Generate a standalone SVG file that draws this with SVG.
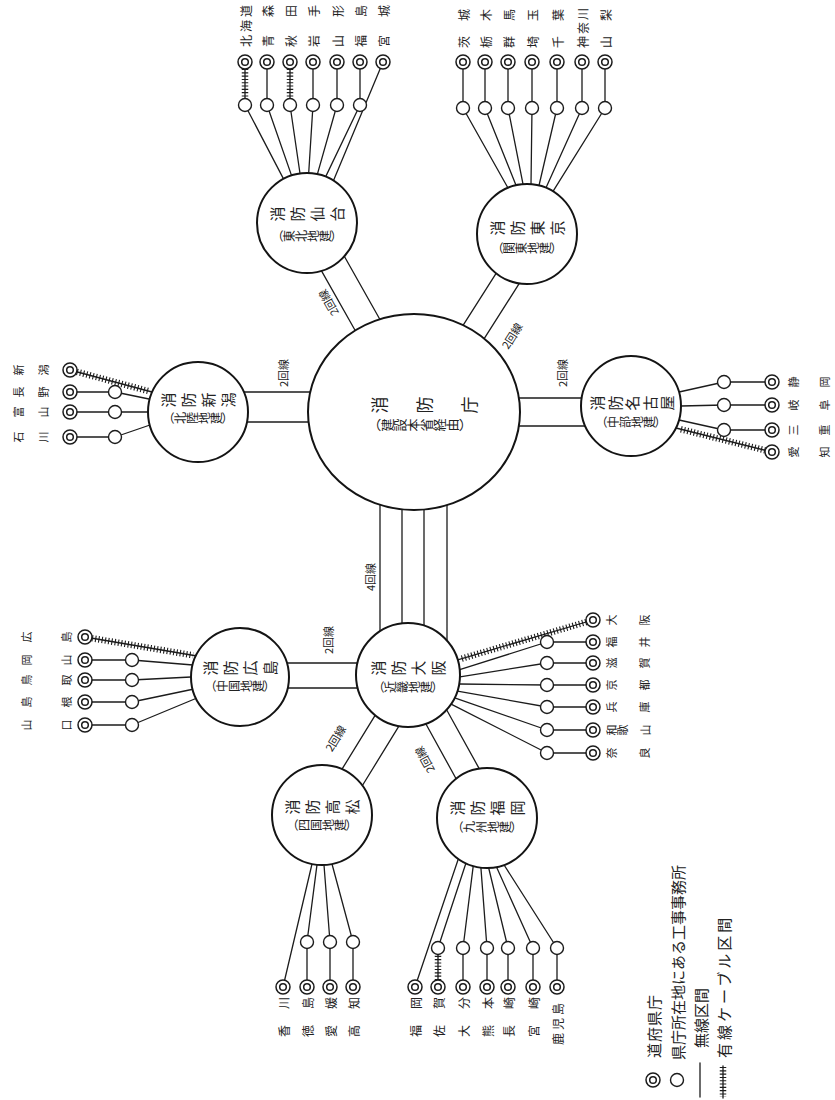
<svg xmlns="http://www.w3.org/2000/svg" width="835" height="1100" viewBox="0 0 835 1100">
<style>
.ln{stroke:#1c1c1c;stroke-width:1.3;fill:none;stroke-linecap:round}
.cb{stroke:#1c1c1c;stroke-width:6.5;stroke-dasharray:1.1 2.2;fill:none}
.hub{fill:#fff;stroke:#141414;stroke-width:2}
.po{fill:#fff;stroke:#1c1c1c;stroke-width:1.5}
.pi{fill:none;stroke:#1c1c1c;stroke-width:1.5}
.of{fill:#fff;stroke:#1c1c1c;stroke-width:1.4}
text{font-family:"Noto Sans CJK JP","Noto Sans CJK SC",sans-serif;fill:#222;dominant-baseline:central}
.v{writing-mode:vertical-rl}
.c1{font-size:15px;letter-spacing:5px}
.c2{font-size:12px}
.lb{font-size:12px}
.ls{font-size:11px}
.lk{font-size:11px}
.lg{font-size:15px}
</style>
<defs>
<g id="pf"><circle r="7" class="po"/><circle r="3.3" class="pi"/></g>
<circle id="of" r="6.5" class="of"/>
</defs>
<rect width="835" height="1100" fill="#fff"/>

<g id="connectors">
 <g class="ln">
  <path d="M321.5 270.9L355.2 330.5M344.3 256.3L379.8 319.2"/>
  <path d="M496.1 273.3L463.2 325.2M519.3 283.4L484.2 338.7"/>
  <path d="M243.8 392H310.2M247 422H308.6"/>
  <path d="M518.9 398H581.6M518.9 426H585.2"/>
  <path d="M380 504.8V631.2M402 509.4V623.3M424 509.6V625.5M447 505.1V640.6"/>
  <path d="M287 663H357.4M287.7 688H357.7"/>
  <path d="M375.1 715.3L342 769.2M398.9 726.2L362.4 785.5"/>
  <path d="M425.8 723.8L456.1 778.7M446.6 709.8L479.2 768.6"/>
  <path d="M245 62V105M267 62V105M290 62V105M313 62V105M337 62V105M360 62V105"/>
  <path d="M245 105L283.5 178.9M267 105L291.5 175.4M290 105L300 173.5M313 105L308.7 173M337 105L317.4 174.1M360 105L325.7 176.6M383 62L333.5 180.6"/>
  <path d="M463 62V108M485 62V108M508 62V108M532 62V108M557 62V108M582 62V108M605 62V108"/>
  <path d="M463 108L508 188M485 108L516 185.2M508 108L523 184.2M532 108L531 184.2M557 108L539 185.5M582 108L546 187.7M605 108L553 191.4"/>
  <path d="M70 392H115M70 412H115M70 437H115"/>
  <path d="M115 392L149 399M115 412L148 412M115 437L150 425M70 370L152 392"/>
  <path d="M772 382H724M772 405H724M772 430H724"/>
  <path d="M724 382L679 392M724 405L681 406M724 430L679 420M772 452L676 428"/>
  <path d="M85 660H132M85 680H132M85 702H132M85 725H132"/>
  <path d="M132 660L193 665M132 680L191 677M132 702L194 689M132 725L197 698M85 637L197 656"/>
  <path d="M593 642H547M593 663H547M593 685H547M593 707H547M593 730H547M593 753H547"/>
  <path d="M547 642L459.7 669.6M547 663L460 676.8M547 685L459.2 684M547 707L457.5 691.1M547 730L454.7 697.8M547 753L451.1 704.1M593 620L457.7 659.8"/>
  <path d="M307 987V942M330 987V942M353 987V942"/>
  <path d="M307 942L317 864.7M330 942L324 865M353 942L332 864M283 987L312 864"/>
  <path d="M438 987V948M463 987V948M487 987V948M508 987V948M533 987V948M557 987V948"/>
  <path d="M438 948L465.9 863.3M463 948L473.2 866.1M487 948L480.9 867.6M508 948L488.7 868M533 948L496.5 867.1M557 948L504.1 865M415 987L458.3 859"/>
 </g>
 <g class="cb">
  <path d="M245 69V98.5M290 69V98.5"/>
  <path d="M76.8 371.8L149 391.2"/>
  <path d="M765.2 450.3L679 428.8"/>
  <path d="M91.9 638.2L193 655.3"/>
  <path d="M586.3 622L461 658.8"/>
  <path d="M438 980V954.5"/>
 </g>
 <text class="lk" x="328" y="303" text-anchor="middle" transform="rotate(-119.5 328 303)">2回線</text>
 <text class="lk" x="511.5" y="335.5" text-anchor="middle" transform="rotate(-57.6 511.5 335.5)">2回線</text>
 <text class="lk" x="283" y="373" text-anchor="middle" transform="rotate(-90 283 373)">2回線</text>
 <text class="lk" x="562" y="373" text-anchor="middle" transform="rotate(-90 562 373)">2回線</text>
 <text class="lk" x="370" y="577" text-anchor="middle" transform="rotate(-90 370 577)">4回線</text>
 <text class="lk" x="328" y="640" text-anchor="middle" transform="rotate(-90 328 640)">2回線</text>
 <text class="lk" x="335" y="738" text-anchor="middle" transform="rotate(-58.4 335 738)">2回線</text>
 <text class="lk" x="424" y="760" text-anchor="middle" transform="rotate(-118.9 424 760)">2回線</text>
</g>

<g id="hub-shobocho">
 <ellipse cx="414" cy="412" rx="106" ry="98" class="hub"/>
 <text class="v" x="371.5" y="405" style="font-size:17px;letter-spacing:28px" transform="rotate(-90 371.5 405)">消防庁</text>
 <text class="v c2" x="368" y="425" style="font-size:13px" transform="rotate(-90 368 425)">（建設本省経由）</text>
</g>
<g id="hub-tohoku">
 <circle cx="307" cy="223" r="50" class="hub"/>
 <text class="v c1" x="269.5" y="214" transform="rotate(-90 269.5 214)">消防仙台</text>
 <text class="v c2" x="271" y="236" transform="rotate(-90 271 236)">（東北地建）</text>
</g>
<g id="hub-kanto">
 <circle cx="527" cy="234" r="50" class="hub"/>
 <text class="v c1" x="489.5" y="228" transform="rotate(-90 489.5 228)">消防東京</text>
 <text class="v c2" x="491" y="248" transform="rotate(-90 491 248)">（関東地建）</text>
</g>
<g id="hub-hokuriku">
 <circle cx="198" cy="412" r="50" class="hub"/>
 <text class="v c1" x="160.5" y="400" transform="rotate(-90 160.5 400)">消防新潟</text>
 <text class="v c2" x="162" y="418" transform="rotate(-90 162 418)">（北陸地建）</text>
</g>
<g id="hub-chubu">
 <circle cx="631" cy="406" r="50" class="hub"/>
 <text class="v c1" x="590" y="403" style="letter-spacing:2.5px" transform="rotate(-90 590 403)">消防名古屋</text>
 <text class="v c2" x="595" y="422" transform="rotate(-90 595 422)">（中部地建）</text>
</g>
<g id="hub-chugoku">
 <circle cx="240" cy="677" r="49" class="hub"/>
 <text class="v c1" x="202.5" y="668" transform="rotate(-90 202.5 668)">消防広島</text>
 <text class="v c2" x="204" y="686" transform="rotate(-90 204 686)">（中国地建）</text>
</g>
<g id="hub-kinki">
 <circle cx="408" cy="675" r="52" class="hub"/>
 <text class="v c1" x="370.5" y="668" transform="rotate(-90 370.5 668)">消防大阪</text>
 <text class="v c2" x="372" y="687" transform="rotate(-90 372 687)">（近畿地建）</text>
</g>
<g id="hub-shikoku">
 <circle cx="322" cy="815" r="50" class="hub"/>
 <text class="v c1" x="284.5" y="807" transform="rotate(-90 284.5 807)">消防高松</text>
 <text class="v c2" x="286" y="825" transform="rotate(-90 286 825)">（四国地建）</text>
</g>
<g id="hub-kyushu">
 <circle cx="487" cy="818" r="50" class="hub"/>
 <text class="v c1" x="449.5" y="808" transform="rotate(-90 449.5 808)">消防福岡</text>
 <text class="v c2" x="451" y="827" transform="rotate(-90 451 827)">（九州地建）</text>
</g>

<g id="offices">
 <use href="#of" x="245" y="105"/><use href="#of" x="267" y="105"/><use href="#of" x="290" y="105"/><use href="#of" x="313" y="105"/><use href="#of" x="337" y="105"/><use href="#of" x="360" y="105"/>
 <use href="#of" x="463" y="108"/><use href="#of" x="485" y="108"/><use href="#of" x="508" y="108"/><use href="#of" x="532" y="108"/><use href="#of" x="557" y="108"/><use href="#of" x="582" y="108"/><use href="#of" x="605" y="108"/>
 <use href="#of" x="115" y="392"/><use href="#of" x="115" y="412"/><use href="#of" x="115" y="437"/>
 <use href="#of" x="724" y="382"/><use href="#of" x="724" y="405"/><use href="#of" x="724" y="430"/>
 <use href="#of" x="132" y="660"/><use href="#of" x="132" y="680"/><use href="#of" x="132" y="702"/><use href="#of" x="132" y="725"/>
 <use href="#of" x="547" y="642"/><use href="#of" x="547" y="663"/><use href="#of" x="547" y="685"/><use href="#of" x="547" y="707"/><use href="#of" x="547" y="730"/><use href="#of" x="547" y="753"/>
 <use href="#of" x="307" y="942"/><use href="#of" x="330" y="942"/><use href="#of" x="353" y="942"/>
 <use href="#of" x="438" y="948"/><use href="#of" x="463" y="948"/><use href="#of" x="487" y="948"/><use href="#of" x="508" y="948"/><use href="#of" x="533" y="948"/><use href="#of" x="557" y="948"/>
</g>

<g id="p-hokkaido"><use href="#pf" x="245" y="62"/><text class="lb" x="245" y="47" transform="rotate(-90 245 47)">北<tspan dx="3">海</tspan><tspan dx="3">道</tspan></text></g>
<g id="p-aomori"><use href="#pf" x="267" y="62"/><text class="lb" x="267" y="47" transform="rotate(-90 267 47)">青<tspan dx="18">森</tspan></text></g>
<g id="p-akita"><use href="#pf" x="290" y="62"/><text class="lb" x="290" y="47" transform="rotate(-90 290 47)">秋<tspan dx="18">田</tspan></text></g>
<g id="p-iwate"><use href="#pf" x="313" y="62"/><text class="lb" x="313" y="47" transform="rotate(-90 313 47)">岩<tspan dx="18">手</tspan></text></g>
<g id="p-yamagata"><use href="#pf" x="337" y="62"/><text class="lb" x="337" y="47" transform="rotate(-90 337 47)">山<tspan dx="18">形</tspan></text></g>
<g id="p-fukushima"><use href="#pf" x="360" y="62"/><text class="lb" x="360" y="47" transform="rotate(-90 360 47)">福<tspan dx="18">島</tspan></text></g>
<g id="p-miyagi"><use href="#pf" x="383" y="62"/><text class="lb" x="383" y="47" transform="rotate(-90 383 47)">宮<tspan dx="18">城</tspan></text></g>

<g id="p-ibaraki"><use href="#pf" x="463" y="62"/><text class="lb" x="463" y="48" transform="rotate(-90 463 48)">茨<tspan dx="15">城</tspan></text></g>
<g id="p-tochigi"><use href="#pf" x="485" y="62"/><text class="lb" x="485" y="48" transform="rotate(-90 485 48)">栃<tspan dx="15">木</tspan></text></g>
<g id="p-gunma"><use href="#pf" x="508" y="62"/><text class="lb" x="508" y="48" transform="rotate(-90 508 48)">群<tspan dx="15">馬</tspan></text></g>
<g id="p-saitama"><use href="#pf" x="532" y="62"/><text class="lb" x="532" y="48" transform="rotate(-90 532 48)">埼<tspan dx="15">玉</tspan></text></g>
<g id="p-chiba"><use href="#pf" x="557" y="62"/><text class="lb" x="557" y="48" transform="rotate(-90 557 48)">千<tspan dx="15">葉</tspan></text></g>
<g id="p-kanagawa"><use href="#pf" x="582" y="62"/><text class="lb" x="582" y="48" transform="rotate(-90 582 48)">神<tspan dx="2">奈</tspan><tspan dx="2">川</tspan></text></g>
<g id="p-yamanashi"><use href="#pf" x="605" y="62"/><text class="lb" x="605" y="48" transform="rotate(-90 605 48)">山<tspan dx="15">梨</tspan></text></g>

<g id="p-niigata"><use href="#pf" x="70" y="370"/><text class="v ls" x="13.5" y="370" transform="rotate(-90 13.5 370)">新<tspan dy="14">潟</tspan></text></g>
<g id="p-nagano"><use href="#pf" x="70" y="392"/><text class="v ls" x="13.5" y="392" transform="rotate(-90 13.5 392)">長<tspan dy="14">野</tspan></text></g>
<g id="p-toyama"><use href="#pf" x="70" y="412"/><text class="v ls" x="13.5" y="412" transform="rotate(-90 13.5 412)">富<tspan dy="14">山</tspan></text></g>
<g id="p-ishikawa"><use href="#pf" x="70" y="437"/><text class="v ls" x="13.5" y="437" transform="rotate(-90 13.5 437)">石<tspan dy="14">川</tspan></text></g>

<g id="p-shizuoka"><use href="#pf" x="772" y="382"/><text class="v ls" x="788" y="382" transform="rotate(-90 788 382)">静<tspan dy="20">岡</tspan></text></g>
<g id="p-gifu"><use href="#pf" x="772" y="405"/><text class="v ls" x="788" y="405" transform="rotate(-90 788 405)">岐<tspan dy="20">阜</tspan></text></g>
<g id="p-mie"><use href="#pf" x="772" y="430"/><text class="v ls" x="788" y="430" transform="rotate(-90 788 430)">三<tspan dy="20">重</tspan></text></g>
<g id="p-aichi"><use href="#pf" x="772" y="452"/><text class="v ls" x="788" y="452" transform="rotate(-90 788 452)">愛<tspan dy="20">知</tspan></text></g>

<g id="p-hiroshima"><use href="#pf" x="85" y="637"/><text class="v ls" x="21.5" y="637" transform="rotate(-90 21.5 637)">広<tspan dy="29">島</tspan></text></g>
<g id="p-okayama"><use href="#pf" x="85" y="660"/><text class="v ls" x="21.5" y="660" transform="rotate(-90 21.5 660)">岡<tspan dy="29">山</tspan></text></g>
<g id="p-tottori"><use href="#pf" x="85" y="680"/><text class="v ls" x="21.5" y="680" transform="rotate(-90 21.5 680)">鳥<tspan dy="29">取</tspan></text></g>
<g id="p-shimane"><use href="#pf" x="85" y="702"/><text class="v ls" x="21.5" y="702" transform="rotate(-90 21.5 702)">島<tspan dy="29">根</tspan></text></g>
<g id="p-yamaguchi"><use href="#pf" x="85" y="725"/><text class="v ls" x="21.5" y="725" transform="rotate(-90 21.5 725)">山<tspan dy="29">口</tspan></text></g>

<g id="p-osaka"><use href="#pf" x="593" y="620"/><text class="v ls" x="606.5" y="620" transform="rotate(-90 606.5 620)">大<tspan dy="22">阪</tspan></text></g>
<g id="p-fukui"><use href="#pf" x="593" y="642"/><text class="v ls" x="606.5" y="642" transform="rotate(-90 606.5 642)">福<tspan dy="22">井</tspan></text></g>
<g id="p-shiga"><use href="#pf" x="593" y="663"/><text class="v ls" x="606.5" y="663" transform="rotate(-90 606.5 663)">滋<tspan dy="22">賀</tspan></text></g>
<g id="p-kyoto"><use href="#pf" x="593" y="685"/><text class="v ls" x="606.5" y="685" transform="rotate(-90 606.5 685)">京<tspan dy="22">都</tspan></text></g>
<g id="p-hyogo"><use href="#pf" x="593" y="707"/><text class="v ls" x="606.5" y="707" transform="rotate(-90 606.5 707)">兵<tspan dy="22">庫</tspan></text></g>
<g id="p-wakayama"><use href="#pf" x="593" y="730"/><text class="v ls" x="606.5" y="730" transform="rotate(-90 606.5 730)">和歌<tspan dy="12">山</tspan></text></g>
<g id="p-nara"><use href="#pf" x="593" y="753"/><text class="v ls" x="606.5" y="753" transform="rotate(-90 606.5 753)">奈<tspan dy="22">良</tspan></text></g>

<g id="p-kagawa"><use href="#pf" x="283" y="987"/><text class="lb" x="283" y="1037" transform="rotate(-90 283 1037)">香<tspan dx="16">川</tspan></text></g>
<g id="p-tokushima"><use href="#pf" x="307" y="987"/><text class="lb" x="307" y="1037" transform="rotate(-90 307 1037)">徳<tspan dx="16">島</tspan></text></g>
<g id="p-ehime"><use href="#pf" x="330" y="987"/><text class="lb" x="330" y="1037" transform="rotate(-90 330 1037)">愛<tspan dx="16">媛</tspan></text></g>
<g id="p-kochi"><use href="#pf" x="353" y="987"/><text class="lb" x="353" y="1037" transform="rotate(-90 353 1037)">高<tspan dx="16">知</tspan></text></g>

<g id="p-fukuoka"><use href="#pf" x="415" y="987"/><text class="lb" x="415" y="1037" transform="rotate(-90 415 1037)">福<tspan dx="16">岡</tspan></text></g>
<g id="p-saga"><use href="#pf" x="438" y="987"/><text class="lb" x="438" y="1037" transform="rotate(-90 438 1037)">佐<tspan dx="16">賀</tspan></text></g>
<g id="p-oita"><use href="#pf" x="463" y="987"/><text class="lb" x="463" y="1037" transform="rotate(-90 463 1037)">大<tspan dx="16">分</tspan></text></g>
<g id="p-kumamoto"><use href="#pf" x="487" y="987"/><text class="lb" x="487" y="1037" transform="rotate(-90 487 1037)">熊<tspan dx="16">本</tspan></text></g>
<g id="p-nagasaki"><use href="#pf" x="508" y="987"/><text class="lb" x="508" y="1037" transform="rotate(-90 508 1037)">長<tspan dx="16">崎</tspan></text></g>
<g id="p-miyazaki"><use href="#pf" x="533" y="987"/><text class="lb" x="533" y="1037" transform="rotate(-90 533 1037)">宮<tspan dx="16">崎</tspan></text></g>
<g id="p-kagoshima"><use href="#pf" x="557" y="987"/><text class="lb" x="557" y="1045" transform="rotate(-90 557 1045)">鹿<tspan dx="3">児</tspan><tspan dx="3">島</tspan></text></g>

<g id="legend">
 <use href="#pf" x="653" y="1080"/>
 <text class="lg" x="653" y="1058" transform="rotate(-90 653 1058)">道<tspan dx="1">府</tspan><tspan dx="1">県</tspan><tspan dx="1">庁</tspan></text>
 <use href="#of" x="677" y="1080"/>
 <text class="lg" x="677" y="1060" transform="rotate(-90 677 1060)">県庁所在地にある工事事務所</text>
 <path class="ln" d="M700 1063V1097"/>
 <text class="lg" x="700" y="1048" transform="rotate(-90 700 1048)">無線区間</text>
 <path class="ln" d="M723 1066V1098"/>
 <path class="cb" d="M723 1067V1097"/>
 <text class="lg" x="723" y="1058" transform="rotate(-90 723 1058)">有<tspan dx="3">線</tspan><tspan dx="3">ケ</tspan><tspan dx="3">ー</tspan><tspan dx="3">ブ</tspan><tspan dx="3">ル</tspan><tspan dx="3">区</tspan><tspan dx="3">間</tspan></text>
</g>
</svg>
